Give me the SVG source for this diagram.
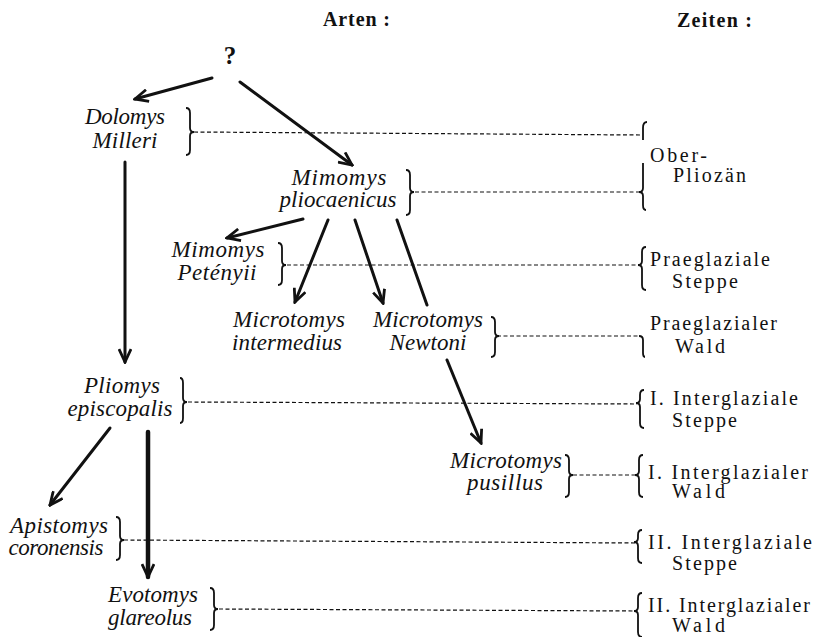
<svg xmlns="http://www.w3.org/2000/svg" width="818" height="637" viewBox="0 0 818 637">
<style>
.sp{font-family:"Liberation Serif",serif;font-style:italic;font-size:23px;fill:#111}
.tm{font-family:"Liberation Serif",serif;font-size:20px;fill:#111}
.hd{font-family:"Liberation Serif",serif;font-weight:bold;font-size:20px;fill:#111}
.ar{stroke:#111;stroke-width:3;fill:none;stroke-linecap:round}
.dash{stroke:#111;stroke-width:1.2;stroke-dasharray:4 2.5;fill:none}
.br{stroke:#111;stroke-width:1.8;fill:none}
</style>
<defs>
<marker id="ah" viewBox="0 0 16 14" refX="14" refY="7" markerWidth="16" markerHeight="14" markerUnits="userSpaceOnUse" orient="auto">
<path d="M1,1 L14,7 L1,13" fill="none" stroke="#111" stroke-width="2.8" stroke-linejoin="miter"/>
</marker>
</defs>
<rect width="818" height="637" fill="#fff"/>
<g id="headers">
<text class="hd" x="323" y="26" textLength="67">Arten :</text>
<text class="hd" x="677" y="27" textLength="75">Zeiten :</text>
</g>
<g id="connectors">
<line class="ar" x1="212" y1="78" x2="135" y2="99" marker-end="url(#ah)"/>
<line class="ar" x1="240" y1="82" x2="352" y2="165" marker-end="url(#ah)"/>
<line class="ar" x1="303" y1="219" x2="227" y2="238" marker-end="url(#ah)"/>
<line class="ar" x1="328" y1="220" x2="295" y2="302" marker-end="url(#ah)"/>
<line class="ar" x1="355" y1="220" x2="383" y2="303" marker-end="url(#ah)"/>
<line class="ar" x1="397" y1="220" x2="427" y2="305"/>
<line class="ar" x1="125" y1="162" x2="125" y2="362" marker-end="url(#ah)"/>
<line class="ar" x1="447" y1="360" x2="481" y2="443" marker-end="url(#ah)"/>
<line class="ar" x1="110" y1="428" x2="50" y2="505" marker-end="url(#ah)"/>
<line class="ar" style="stroke-width:4.5" x1="148" y1="432" x2="148" y2="577" marker-end="url(#ah)"/>
<line class="dash" x1="194" y1="132" x2="640" y2="135"/>
<line class="dash" x1="415" y1="192" x2="640" y2="192"/>
<line class="dash" x1="287" y1="265" x2="639" y2="265"/>
<line class="dash" x1="497" y1="336" x2="640" y2="336"/>
<line class="dash" x1="188" y1="402" x2="637" y2="404"/>
<line class="dash" x1="573" y1="475" x2="636" y2="475"/>
<line class="dash" x1="124" y1="540" x2="636" y2="543"/>
<line class="dash" x1="219" y1="609" x2="636" y2="611"/>
</g>
<g id="q"><text class="tm" style="font-weight:bold;font-size:25px" x="230" y="64" text-anchor="middle">?</text></g>
<g id="dolomys">
<text class="sp" x="125" y="124" text-anchor="middle" textLength="80">Dolomys</text>
<text class="sp" x="125" y="148" text-anchor="middle" textLength="65">Milleri</text>
<path class="br" d="M186,108 Q190,108 190,113 L190,128 Q190,132 194,132 Q190,132 190,136 L190,150 Q190,155 186,155"/>
</g>
<g id="pliocaenicus">
<text class="sp" x="339" y="185" text-anchor="middle" textLength="95">Mimomys</text>
<text class="sp" x="338" y="207" text-anchor="middle" textLength="117">pliocaenicus</text>
<path class="br" d="M406,170 Q410,170 410,175 L410,188 Q410,192 414,192 Q410,192 410,196 L410,210 Q410,215 406,215"/>
</g>
<g id="petenyii">
<text class="sp" x="218" y="257" text-anchor="middle" textLength="93">Mimomys</text>
<text class="sp" x="217" y="280" text-anchor="middle" textLength="79">Petényii</text>
<path class="br" d="M278,243 Q282,243 282,248 L282,261 Q282,265 286,265 Q282,265 282,269 L282,280 Q282,285 278,285"/>
</g>
<g id="intermedius">
<text class="sp" x="289" y="327" text-anchor="middle" textLength="112">Microtomys</text>
<text class="sp" x="287" y="350" text-anchor="middle" textLength="110">intermedius</text>
</g>
<g id="newtoni">
<text class="sp" x="428" y="327" text-anchor="middle" textLength="110">Microtomys</text>
<text class="sp" x="428" y="350" text-anchor="middle" textLength="77">Newtoni</text>
<path class="br" d="M491,317 Q495,317 495,322 L495,332 Q495,336 499,336 Q495,336 495,340 L495,352 Q495,357 491,357"/>
</g>
<g id="pliomys">
<text class="sp" x="122" y="393" text-anchor="middle" textLength="76">Pliomys</text>
<text class="sp" x="120" y="416" text-anchor="middle" textLength="105">episcopalis</text>
<path class="br" d="M180,378 Q183,378 183,383 L183,398 Q183,402 187,402 Q183,402 183,406 L183,418 Q183,423 180,423"/>
</g>
<g id="pusillus">
<text class="sp" x="506" y="468" text-anchor="middle" textLength="112">Microtomys</text>
<text class="sp" x="505" y="490" text-anchor="middle" textLength="76">pusillus</text>
<path class="br" d="M565,455 Q569,455 569,460 L569,471 Q569,475 573,475 Q569,475 569,479 L569,492 Q569,497 565,497"/>
</g>
<g id="apistomys">
<text class="sp" x="59" y="533" text-anchor="middle" textLength="98">Apistomys</text>
<text class="sp" x="56" y="555" text-anchor="middle" textLength="95">coronensis</text>
<path class="br" d="M116,517 Q120,517 120,522 L120,536 Q120,540 124,540 Q120,540 120,544 L120,555 Q120,560 116,560"/>
</g>
<g id="evotomys">
<text class="sp" x="153" y="602" text-anchor="middle" textLength="90">Evotomys</text>
<text class="sp" x="150" y="625" text-anchor="middle" textLength="84">glareolus</text>
<path class="br" d="M210,588 Q214,588 214,593 L214,605 Q214,609 218,609 Q214,609 214,613 L214,625 Q214,630 210,630"/>
</g>
<g id="oberpliozaen">
<path class="br" d="M647,122 Q643,122 643,128 L643,140"/>
<path class="br" d="M643,163 L643,188 Q643,192 639,192 Q643,192 643,196 L643,205 Q643,210 646,210"/>
<text class="tm" x="650" y="162" textLength="57">Ober-</text>
<text class="tm" x="673" y="182" textLength="73">Pliozän</text>
</g>
<g id="praeglaziale-steppe">
<path class="br" d="M646,247 Q642,247 642,252 L642,261 Q642,265 638,265 Q642,265 642,269 L642,285 Q642,290 646,290"/>
<text class="tm" x="650" y="266" textLength="120">Praeglaziale</text>
<text class="tm" x="672" y="288" textLength="66">Steppe</text>
</g>
<g id="praeglazialer-wald">
<path class="br" d="M639,336 Q643,336 643,340 L643,353 Q643,357 645,357"/>
<text class="tm" x="650" y="330" textLength="127">Praeglazialer</text>
<text class="tm" x="675" y="353" textLength="50">Wald</text>
</g>
<g id="i-interglaziale-steppe">
<path class="br" d="M644,390 Q640,390 640,395 L640,399 Q640,403 636,403 Q640,403 640,407 L640,423 Q640,428 644,428"/>
<text class="tm" x="650" y="405" textLength="148">I.  Interglaziale</text>
<text class="tm" x="672" y="427" textLength="65">Steppe</text>
</g>
<g id="i-interglazialer-wald">
<path class="br" d="M643,455 Q639,455 639,460 L639,471 Q639,475 635,475 Q639,475 639,479 L639,492 Q639,497 643,497"/>
<text class="tm" x="648" y="479" textLength="160">I.  Interglazialer</text>
<text class="tm" x="672" y="498" textLength="53">Wald</text>
</g>
<g id="ii-interglaziale-steppe">
<path class="br" d="M642,530 Q638,530 638,535 L638,538 Q638,542 634,542 Q638,542 638,546 L638,558 Q638,563 642,563"/>
<text class="tm" x="648" y="549" textLength="164">II.  Interglaziale</text>
<text class="tm" x="672" y="570" textLength="65">Steppe</text>
</g>
<g id="ii-interglazialer-wald">
<path class="br" d="M642,593 Q638,593 638,598 L638,607 Q638,611 634,611 Q638,611 638,615 L638,632 Q638,637 642,637"/>
<text class="tm" x="648" y="612" textLength="162">II. Interglazialer</text>
<text class="tm" x="672" y="632" textLength="53">Wald</text>
</g>
</svg>
